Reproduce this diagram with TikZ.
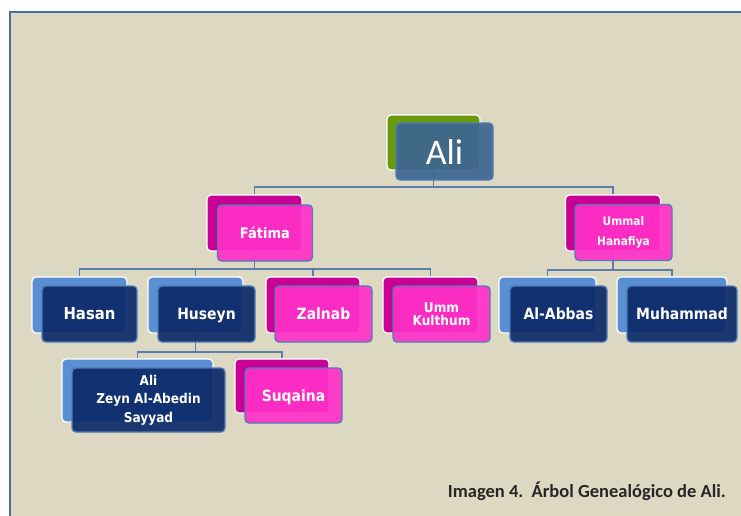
\documentclass[tikz,border=0pt]{standalone}
\usepackage{fontspec}
\newfontfamily\labfont{DejaVu Sans}[FakeStretch=0.9]
\newfontfamily\calfont{Carlito}
\definecolor{beige}{HTML}{DDD8C2}
\definecolor{framecol}{HTML}{4B6C9E}
\definecolor{greenback}{HTML}{6A9A0A}
\definecolor{alifront}{HTML}{3C6592}
\definecolor{edgecol}{HTML}{4F7DB5}
\definecolor{magback}{HTML}{C80096}
\definecolor{pinkfront}{HTML}{FF30C8}
\definecolor{darkfront}{HTML}{0C2A68}
\definecolor{lightback}{HTML}{5B8FD4}
\definecolor{conncol}{HTML}{5A7DAA}
\pgfdeclarelayer{bg}
\pgfdeclarelayer{lines}
\pgfsetlayers{bg,lines,main}
\begin{document}
\begin{tikzpicture}[x=1pt,y=-1pt,
  boxbase/.style={rounded corners=4pt, line width=1.3pt, inner sep=0pt,
    minimum width=95pt, minimum height=56pt},
  back/.style={boxbase, draw=white},
  front/.style={boxbase, draw=edgecol, fill opacity=0.92, text opacity=1,
    text=white, align=center, font=\labfont\bfseries\fontsize{15.5}{18}\selectfont},
  one/.style={text height=11pt, text depth=0pt},
  gback/.style={back, fill=greenback},
  mback/.style={back, fill=magback},
  lback/.style={back, fill=lightback},
  afront/.style={front, fill=alifront},
  pfront/.style={front, fill=pinkfront},
  dfront/.style={front, fill=darkfront},
  conn/.style={draw=conncol, line width=1.3pt}]
\useasboundingbox (0,0) rectangle (741,515);
\begin{pgfonlayer}{bg}
  \fill[beige] (10,12) rectangle (745,520);
  \draw[framecol, line width=2pt] (10,520) -- (10,12) -- (745,12);
\end{pgfonlayer}

% Ali
\node[gback, minimum width=93pt, minimum height=55pt] (aliB) at (433.5,142.5) {};
\node[afront, minimum width=97pt, minimum height=57pt,
  font=\calfont\fontsize{36}{36}\selectfont] (aliF) at (444.5,151.5) {Ali};

% level 2
\node[mback] (fatB) at (254.5,223) {};
\node[pfront, one, font=\labfont\bfseries\fontsize{14.5}{18}\selectfont] (fatF) at (265,233) {Fátima};
\node[mback] (umB) at (613,223) {};
\node[pfront, minimum width=97pt, font=\labfont\bfseries\fontsize{11.8}{20}\selectfont] (umF) at (623.5,232.5) {Ummal\\Hanafiya};

% level 3
\node[lback] (hasB) at (79.5,305) {};
\node[dfront, one, font=\labfont\bfseries\fontsize{16.5}{18}\selectfont] (hasF) at (89.5,314) {Hasan};
\node[lback] (husB) at (195.5,305) {};
\node[dfront, one, minimum width=97pt] (husF) at (206.5,314) {Huseyn};
\node[mback, minimum width=94pt] (zalB) at (313,305) {};
\node[pfront, one, minimum width=97pt] (zalF) at (323.5,314) {Zalnab};
\node[mback] (ukB) at (430.5,305) {};
\node[pfront, minimum width=97pt, font=\labfont\bfseries\fontsize{13.5}{13.5}\selectfont] (ukF) at (441.5,314) {Umm\\Kulthum};
\node[lback, minimum width=97pt] (abB) at (547.5,305) {};
\node[dfront, one, minimum width=97pt] (abF) at (558.5,314) {Al-Abbas};
\node[lback, minimum width=110pt] (muB) at (672,305) {};
\node[dfront, one, minimum width=110pt] (muF) at (682,314) {Muhammad};

% level 4
\node[lback, minimum width=151pt, minimum height=63pt] (azB) at (137.5,390.5) {};
\node[dfront, minimum width=153pt, minimum height=64pt,
  font=\labfont\bfseries\fontsize{13.5}{18.5}\selectfont] (azF) at (148.5,400) {Ali\\Zeyn Al-Abedin\\Sayyad};
\node[mback, minimum width=94pt, minimum height=54pt] (suB) at (282,386) {};
\node[pfront, one, minimum width=97pt, minimum height=55pt] (suF) at (293.5,395.5) {Suqaina};

% caption
\node[font=\calfont\bfseries\fontsize{18.5}{22}\selectfont, text=black!85, anchor=east, inner sep=0pt] (cap) at (726,491) {Imagen 4.\ \ Árbol Genealógico de Ali.};

% connectors
\coordinate (j1) at (433.5,187);
\coordinate (j2) at (254.5,269);
\coordinate (j3) at (613,270);
\coordinate (j4) at (195.5,352);
\begin{pgfonlayer}{lines}
  \draw[conn] (aliB.center) -- (j1);
  \draw[conn] (fatB.north) |- (j1) -| (umB.north);
  \draw[conn] (fatB.center) -- (j2);
  \draw[conn] (hasB.north) |- (j2) -| (ukB.north);
  \draw[conn] (husB.north) -- (husB.north |- j2);
  \draw[conn] (zalB.north) -- (zalB.north |- j2);
  \draw[conn] (umB.center) -- (j3);
  \draw[conn] (abB.north) |- (j3) -| (muB.north);
  \draw[conn] (husB.center) -- (j4);
  \draw[conn] (azB.north) |- (j4) -| (suB.north);
\end{pgfonlayer}
\end{tikzpicture}
\end{document}
